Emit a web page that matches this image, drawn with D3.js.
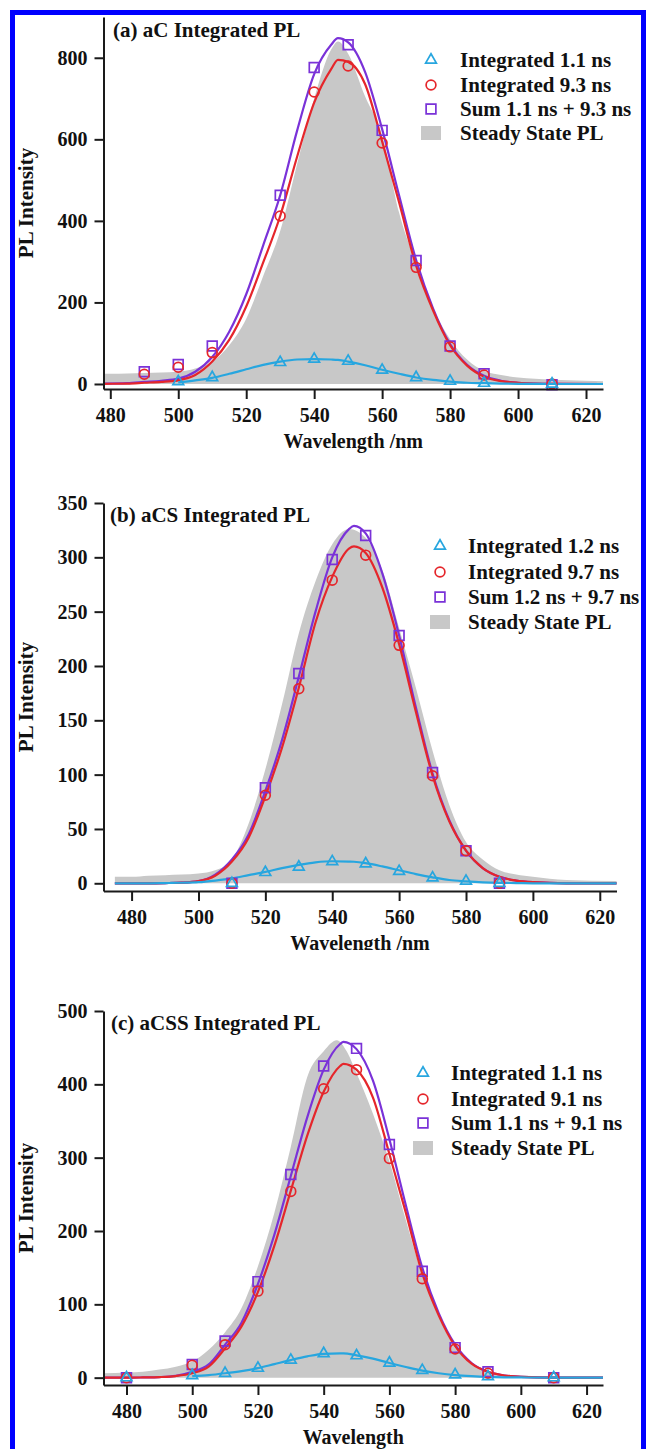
<!DOCTYPE html>
<html>
<head>
<meta charset="utf-8">
<script src="https://cdn.jsdelivr.net/npm/d3@7"></script>
<style>
  body { margin: 0; background: #fff; }
  svg { display: block; }
  text { font-family: "Liberation Serif", "Times New Roman", serif; font-weight: bold; font-size: 21px; fill: #111; }
  .tick text { font-size: 20px; }
</style>
</head>
<body>
<svg id="chart" width="648" height="1449"></svg>
<script>
// ---- panel (a) aC ----
var aPtX  = [490, 500, 510, 530, 540, 550, 560, 570, 580, 590, 610];
var aTri  = [null, 6, 16, 53, 61, 56, 34, 16, 7, 2, 0];
var aCirc = [24, 41, 77, 412, 716, 780, 591, 286, 91, 22, 0];
var aSq   = [30, 48, 93, 463, 776, 832, 622, 303, 93, 25, -2];
var aFitX   = [478, 485, 490, 495, 500, 505, 510, 515, 520, 525, 530, 535, 540, 545, 547, 550, 555, 560, 565, 570, 575, 580, 585, 590, 595, 600, 610, 625];
var aFitSum = [1, 2, 5, 8, 13, 30, 66, 128, 220, 340, 463, 622, 760, 832, 848, 838, 765, 625, 462, 304, 185, 98, 47, 20, 8, 3, 0.5, 0];
var aFit93  = [0.5, 1, 3, 5, 9, 22, 55, 108, 190, 298, 412, 558, 690, 772, 795, 790, 735, 595, 445, 290, 180, 95, 45, 18, 7, 3, 0.5, 0];
var aFit11  = [null, null, null, null, 4, 9, 15, 25, 36, 47, 55, 60, 61, 60, 59, 55, 46, 35, 25, 16, 10, 6, 3, 2, 1, 0.5, 0, 0];
var aGrayX = [478, 480, 485, 490, 495, 500, 505, 510, 515, 520, 525, 530, 535, 540, 545, 547, 550, 555, 560, 565, 570, 575, 580, 585, 590, 595, 600, 605, 610, 615, 620, 625];
var aGray  = [25, 25, 26, 27, 28, 30, 38, 55, 95, 160, 265, 375, 540, 700, 820, 840, 810, 705, 610, 420, 295, 185, 110, 60, 32, 22, 16, 13, 11, 9, 8, 7];

// ---- panel (b) aCS ----
var bPtX  = [510, 520, 530, 540, 550, 560, 570, 580, 590];
var bTri  = [0, 10, 15, 20, 18, 11, 5, 2, 0];
var bCirc = [0, 81, 179, 279, 302, 219, 99, 30, 0];
var bSq   = [0, 88, 193, 298, 320, 228, 102, 30, 0];
var bFitX   = [475, 480, 485, 490, 495, 500, 505, 510, 515, 520, 525, 530, 535, 540, 545, 546.5, 550, 555, 560, 565, 570, 575, 580, 585, 590, 595, 600, 610, 625];
var bFitSum = [0, 0, 0, 0.2, 0.6, 2, 8, 22, 45, 85, 132, 190, 250, 300, 326, 329, 322, 285, 228, 162, 101, 58, 30, 14, 6, 2.5, 1, 0, 0];
var bFit97  = [0, 0, 0, 0.2, 0.6, 2, 7, 20, 42, 80, 125, 180, 240, 282, 308, 310, 304, 272, 220, 158, 99, 57, 30, 14, 6, 2.5, 1, 0, 0];
var bFit12  = [0, 0, 0, 0.2, 0.5, 1, 2.5, 4.5, 7.5, 10.5, 14, 17, 19.3, 20.3, 20, 19.8, 18.5, 15.5, 12, 8.5, 5.5, 3, 1.8, 0.9, 0.4, 0.2, 0, 0, 0];
var bGrayX = [475, 480, 485, 490, 495, 500, 505, 510, 515, 520, 525, 530, 535, 540, 545, 550, 555, 560, 565, 570, 575, 580, 585, 590, 595, 600, 610, 625];
var bGray  = [6, 6, 7, 7.5, 8, 9, 12, 22, 55, 105, 165, 230, 278, 312, 326, 318, 288, 235, 180, 122, 72, 38, 22, 12, 8, 6, 3, 2];

// ---- panel (c) aCSS ----
var cPtX  = [480, 500, 510, 520, 530, 540, 550, 560, 570, 580, 590, 610];
var cTri  = [0, 3, 6, 13, 24, 33, 30, 20, 10, 4, 1.5, 0];
var cCirc = [0, 17, 45, 118, 254, 394, 420, 299, 135, 39, 6, 0];
var cSq   = [0, 18, 50, 131, 277, 425, 449, 318, 145, 41, 8, 0];
var cFitX   = [473, 480, 485, 490, 495, 500, 505, 510, 515, 520, 525, 530, 535, 540, 545, 546, 550, 555, 560, 565, 570, 575, 580, 585, 590, 595, 600, 610, 625];
var cFitSum = [0, 0, 0.3, 0.8, 2.5, 8, 18, 45, 75, 128, 195, 275, 355, 420, 455, 458, 448, 405, 325, 235, 150, 88, 45, 20, 8, 3, 1, 0, 0];
var cFit91  = [0, 0, 0.3, 0.8, 2.2, 6, 15, 40, 70, 117, 180, 255, 330, 390, 425, 428, 420, 382, 305, 225, 142, 85, 43, 19, 8, 3, 1, 0, 0];
var cFit11  = [null, null, null, null, null, 2, 3.5, 6, 9, 13, 18.5, 24, 29, 32.5, 33, 33, 30.5, 26, 20, 14.5, 9.5, 6, 3.5, 2, 1, 0.5, 0.3, 0, 0];
var cGrayX = [473, 480, 485, 490, 495, 500, 505, 510, 515, 520, 525, 530, 535, 540, 544, 547, 550, 555, 560, 565, 570, 575, 580, 585, 590, 595, 600, 610, 625];
var cGray  = [6, 7, 8, 11, 15, 22, 38, 62, 95, 152, 225, 315, 410, 445, 460, 445, 415, 360, 295, 215, 140, 85, 40, 20, 8, 4, 3, 1, 0.5];

var xTicks = [480, 500, 520, 540, 560, 580, 600, 620];

var cyan = "#27a6df", red = "#e5262b", purple = "#7a32d8", grey = "#c8c8c8";

var panels = [
  { title: "(a) aC Integrated PL", xlab: "Wavelength /nm",
    xDom: [478, 625], xRng: [103.5, 603], yDom: [-12.3, 900], yRng: [389, 17], yTicks: [0, 200, 400, 600, 800],
    ptX: aPtX, tri: aTri, circ: aCirc, sq: aSq,
    fitX: aFitX, fitTri: aFit11, fitCirc: aFit93, fitSq: aFitSum, grayX: aGrayX, gray: aGray,
    legend: ["Integrated 1.1 ns", "Integrated 9.3 ns", "Sum 1.1 ns + 9.3 ns", "Steady State PL"],
    legX: 431, legTextX: 460, legY: [60, 85, 109, 133], titleX: 113, titleY: 37, clip: null },
  { title: "(b) aCS Integrated PL", xlab: "Wavelength /nm",
    xDom: [471.6, 625], xRng: [103.5, 616.5], yDom: [-7.1, 350], yRng: [891, 503], yTicks: [0, 50, 100, 150, 200, 250, 300, 350],
    ptX: bPtX, tri: bTri, circ: bCirc, sq: bSq,
    fitX: bFitX, fitTri: bFit12, fitCirc: bFit97, fitSq: bFitSum, grayX: bGrayX, gray: bGray,
    legend: ["Integrated 1.2 ns", "Integrated 9.7 ns", "Sum 1.2 ns + 9.7 ns", "Steady State PL"],
    legX: 440, legTextX: 468, legY: [546, 572, 597, 622], titleX: 110, titleY: 522, clip: [460, 950] },
  { title: "(c) aCSS Integrated PL", xlab: "Wavelength",
    xDom: [473, 625], xRng: [103.5, 603], yDom: [-10, 500], yRng: [1385, 1011], yTicks: [0, 100, 200, 300, 400, 500],
    ptX: cPtX, tri: cTri, circ: cCirc, sq: cSq,
    fitX: cFitX, fitTri: cFit11, fitCirc: cFit91, fitSq: cFitSum, grayX: cGrayX, gray: cGray,
    legend: ["Integrated 1.1 ns", "Integrated 9.1 ns", "Sum 1.1 ns + 9.1 ns", "Steady State PL"],
    legX: 423, legTextX: 451, legY: [1073, 1099, 1123, 1148], titleX: 111, titleY: 1030, clip: null }
];

var svg = d3.select("#chart");

var triSym = d3.symbol(d3.symbolTriangle, 50);
var circSym = d3.symbol(d3.symbolCircle, 75);
var sqSym = d3.symbol(d3.symbolSquare, 95);

panels.forEach(function(p, k) {
  var g = svg.append("g");
  if (p.clip) {
    svg.append("clipPath").attr("id", "clip" + k)
      .append("rect").attr("x", 0).attr("y", p.clip[0]).attr("width", 648).attr("height", p.clip[1] - p.clip[0]);
    g.attr("clip-path", "url(#clip" + k + ")");
  }

  var x = d3.scaleLinear().domain(p.xDom).range(p.xRng);
  var y = d3.scaleLinear().domain(p.yDom).range(p.yRng);

  // steady state PL (grey fill)
  var area = d3.area()
    .x(function(d, i) { return x(p.grayX[i]); })
    .y0(y(0))
    .y1(function(d) { return y(d); })
    .curve(d3.curveMonotoneX);
  g.append("path").datum(p.gray).attr("d", area).attr("fill", grey);

  // fitted curves
  var line = d3.line()
    .defined(function(d) { return d != null; })
    .x(function(d, i) { return x(p.fitX[i]); })
    .y(function(d) { return y(d); })
    .curve(d3.curveMonotoneX);
  [[p.fitSq, purple], [p.fitCirc, red], [p.fitTri, cyan]].forEach(function(s) {
    g.append("path").datum(s[0]).attr("d", line)
      .attr("fill", "none").attr("stroke", s[1]).attr("stroke-width", 2.2);
  });

  // markers
  function pts(vals) {
    return p.ptX.map(function(w, i) { return [w, vals[i]]; }).filter(function(d) { return d[1] != null; });
  }
  [[p.sq, sqSym, purple], [p.circ, circSym, red], [p.tri, triSym, cyan]].forEach(function(s) {
    g.append("g").selectAll("path").data(pts(s[0])).enter().append("path")
      .attr("transform", function(d) { return "translate(" + x(d[0]) + "," + y(d[1]) + ")"; })
      .attr("d", s[1])
      .attr("fill", "none").attr("stroke", s[2]).attr("stroke-width", 1.7);
  });

  // axes
  var ya = g.append("g").attr("transform", "translate(" + p.xRng[0] + ",0)")
    .call(d3.axisLeft(y).tickValues(p.yTicks).tickSize(9).tickPadding(7).tickSizeOuter(0));
  var xa = g.append("g").attr("transform", "translate(0," + p.yRng[0] + ")")
    .call(d3.axisBottom(x).tickValues(xTicks).tickSize(10).tickPadding(9).tickSizeOuter(0));
  [ya, xa].forEach(function(a) {
    a.select(".domain").attr("stroke", "#1a1a1a").attr("stroke-width", 2);
    a.selectAll(".tick line").attr("stroke", "#1a1a1a").attr("stroke-width", 2);
    a.selectAll(".tick text").attr("fill", "#111");
  });

  // labels
  g.append("text").attr("x", p.titleX).attr("y", p.titleY).text(p.title);
  g.append("text")
    .attr("transform", "translate(33," + ((p.yRng[0] + p.yRng[1]) / 2) + ") rotate(-90)")
    .attr("text-anchor", "middle").text("PL Intensity");
  g.append("text")
    .attr("x", (p.xRng[0] + p.xRng[1]) / 2).attr("y", p.yRng[0] + 59)
    .attr("text-anchor", "middle").style("font-size", "20px").text(p.xlab);

  // legend
  var lg = g.append("g");
  lg.append("path").attr("transform", "translate(" + p.legX + "," + p.legY[0] + ")").attr("d", triSym)
    .attr("fill", "none").attr("stroke", cyan).attr("stroke-width", 1.7);
  lg.append("path").attr("transform", "translate(" + p.legX + "," + p.legY[1] + ")").attr("d", circSym)
    .attr("fill", "none").attr("stroke", red).attr("stroke-width", 1.7);
  lg.append("path").attr("transform", "translate(" + p.legX + "," + p.legY[2] + ")").attr("d", sqSym)
    .attr("fill", "none").attr("stroke", purple).attr("stroke-width", 1.7);
  lg.append("rect").attr("x", p.legX - 10).attr("y", p.legY[3] - 7).attr("width", 20).attr("height", 14).attr("fill", grey);
  lg.selectAll("text").data(p.legend).enter().append("text")
    .attr("x", p.legTextX)
    .attr("y", function(d, i) { return p.legY[i] + 7; })
    .text(function(d) { return d; });
});

// blue frame round the figure
svg.append("rect").attr("x", 12.5).attr("y", 12.5).attr("width", 631).attr("height", 1460)
  .attr("fill", "none").attr("stroke", "#0000ff").attr("stroke-width", 5);
</script>
</body>
</html>
